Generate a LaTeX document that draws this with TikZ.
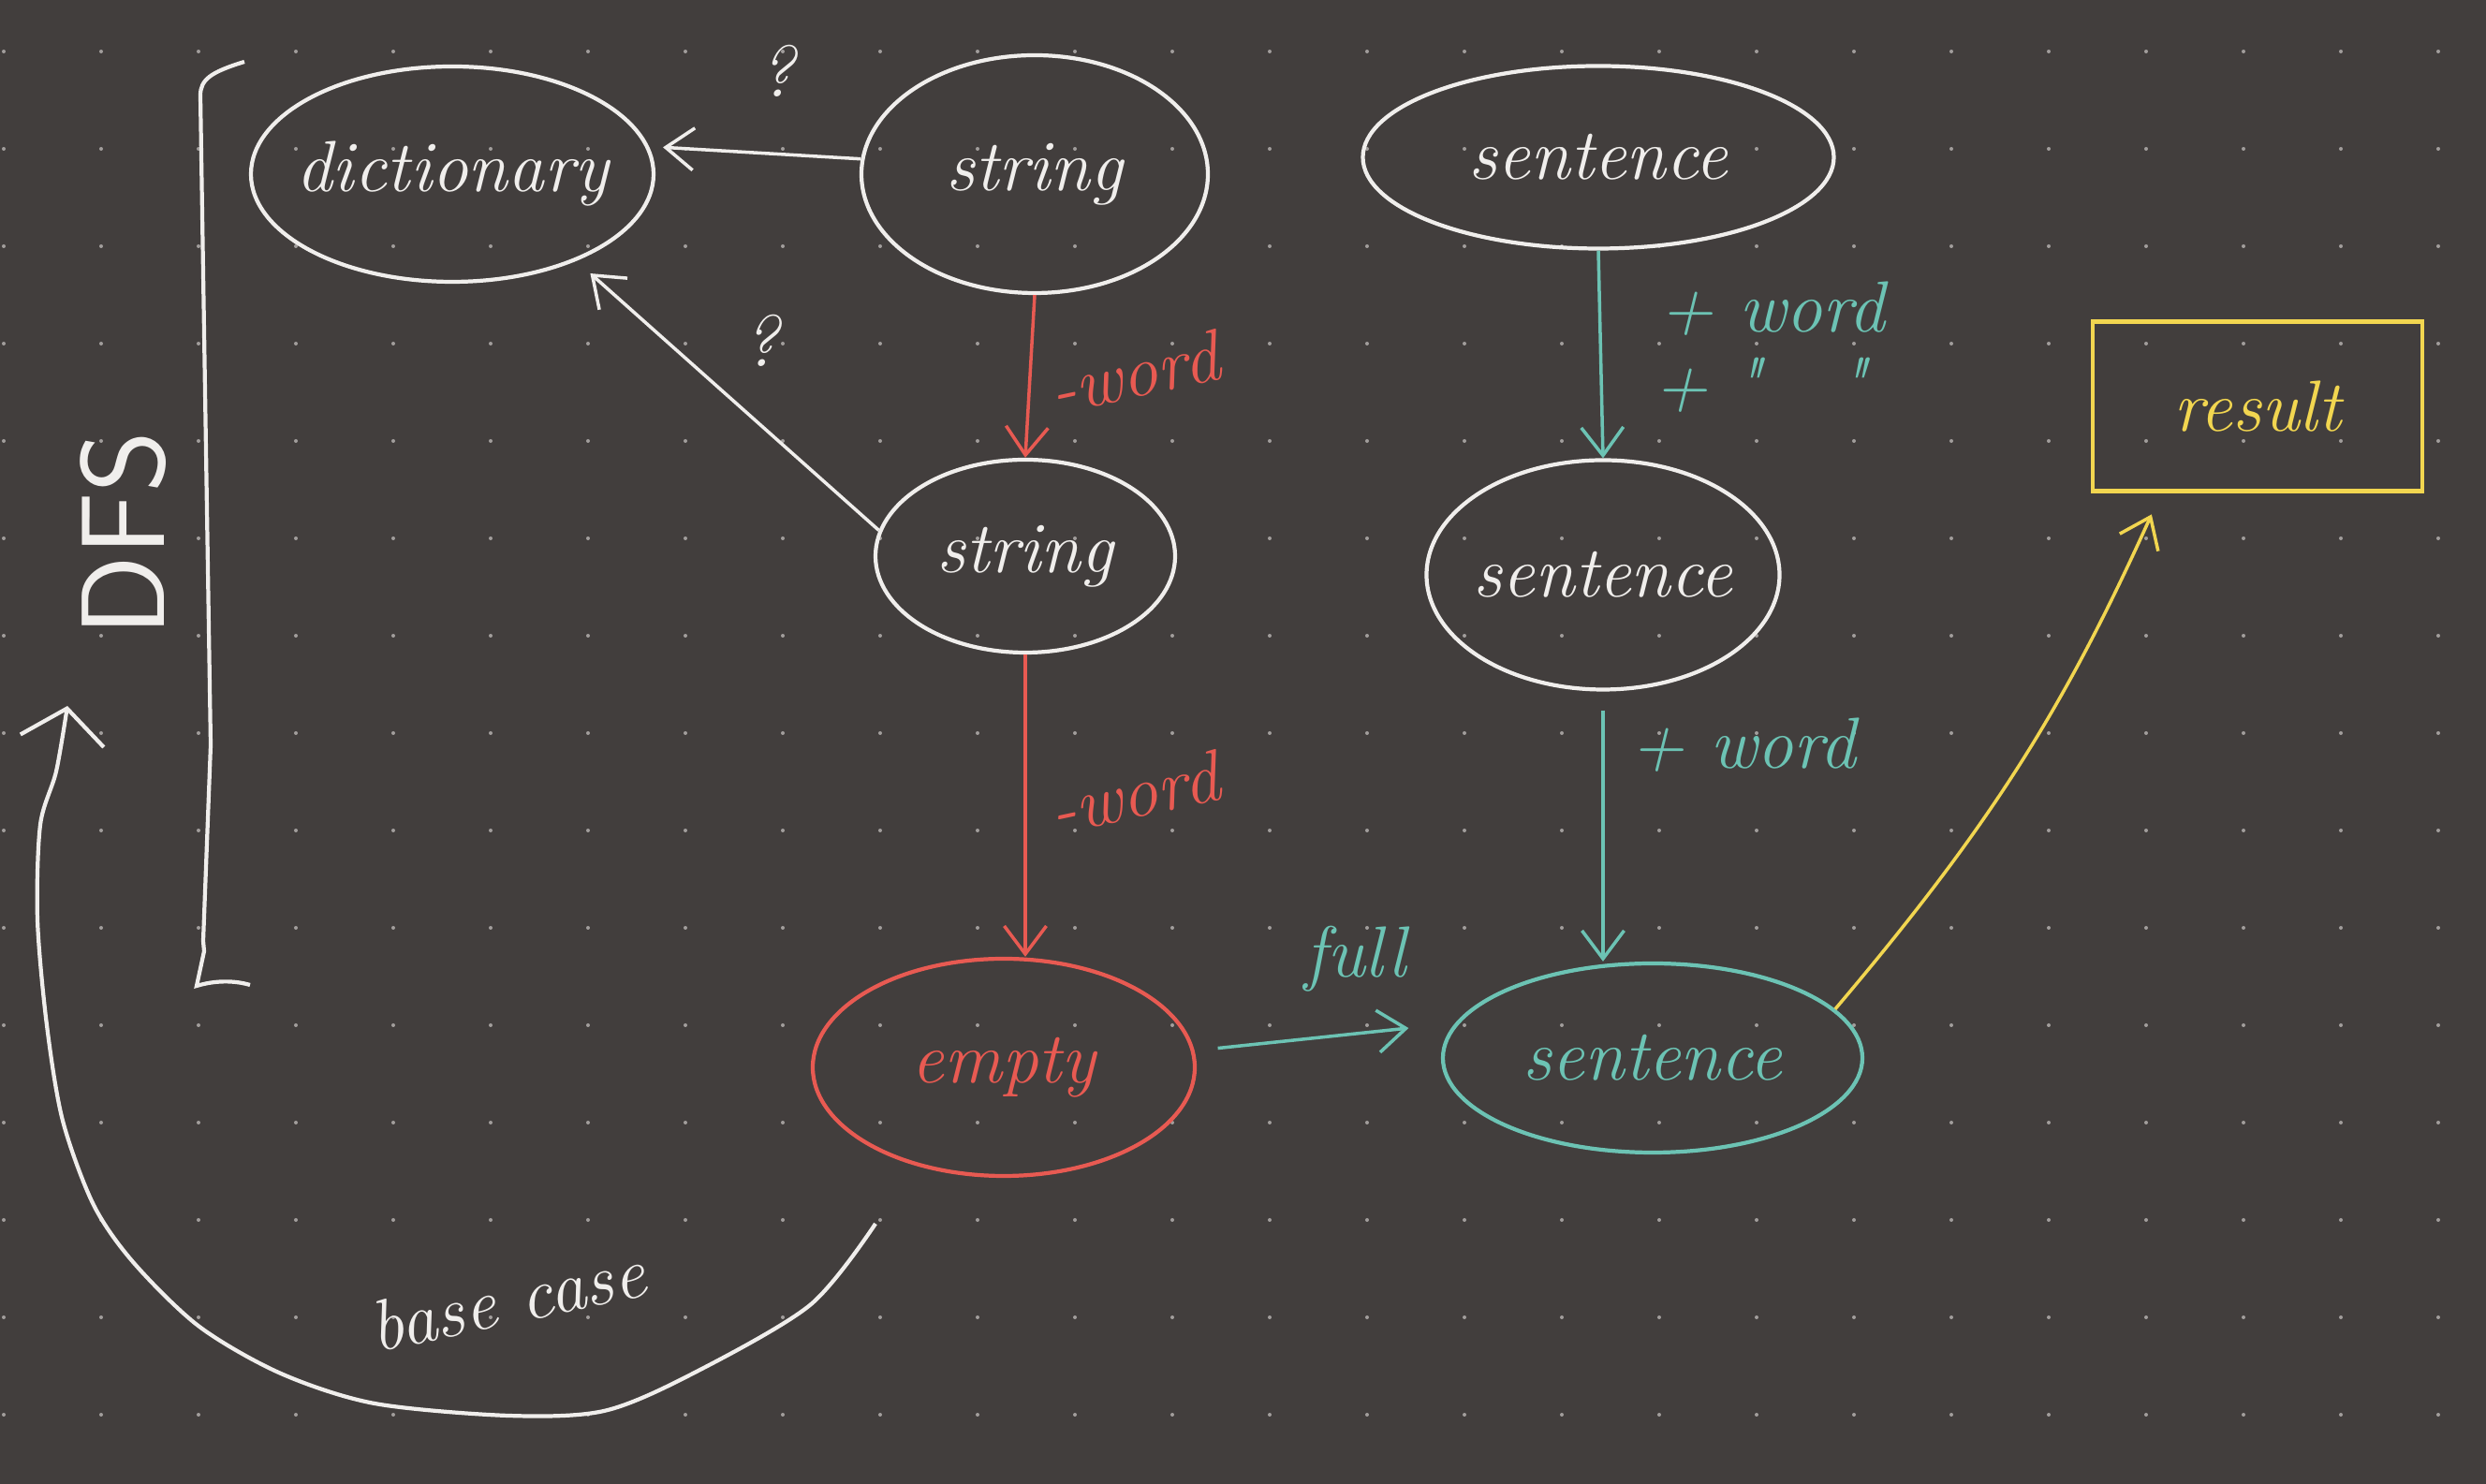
\documentclass[tikz,border=0pt]{standalone}
\usepackage{fontspec}
\usetikzlibrary{shapes.geometric, arrows.meta, positioning}
\definecolor{board}{HTML}{423E3D}
\definecolor{chalk}{HTML}{F0EEEC}
\definecolor{redink}{HTML}{E85A52}
\definecolor{tealink}{HTML}{6CC3B4}
\definecolor{yellowink}{HTML}{F2D650}
\definecolor{dotgrey}{HTML}{A29E9C}

\begin{document}
\begin{tikzpicture}[
	hand/.style={font=\fontsize{22}{26}\selectfont\itshape},
	blob/.style={ellipse, draw, line width=1.2pt, hand, inner sep=-2mm},
	barb/.style={-{Straight Barb[length=3mm,width=4.5mm]}, line width=1pt}]
	% board and dot grid
	\fill[board] (0,0) rectangle (26.55,15.85);
	\foreach \i in {0,...,25}
		\foreach \j in {0,...,14}
			\fill[dotgrey] (0.04+1.04*\i, 15.30-1.04*\j) circle (0.02);

	% DFS bracket
	\draw[chalk, line width=1.2pt] (2.61,15.19) .. controls (2.25,15.08) and (2.14,15.0) .. (2.14,14.83)
		-- (2.25,7.89) -- (2.17,5.80) -- (2.18,5.69) -- (2.10,5.32) .. controls (2.30,5.38) and (2.50,5.38) .. (2.67,5.33);
	\node[chalk, font=\fontsize{36}{40}\selectfont\sffamily, rotate=90] (dfs) at (1.32,10.15) {DFS};

	\node[blob, chalk, minimum width=4.3cm, minimum height=2.3cm] (dict) at (4.83,13.99) {dictionary};
	\node[blob, chalk, minimum width=3.7cm, minimum height=2.54cm] (str1) at (11.05,13.99) {string};
	\node[blob, chalk, minimum width=3.2cm, minimum height=2.06cm] (str2) at (10.95,9.91) {string};
	\node[blob, redink, minimum width=4.08cm, minimum height=2.32cm] (empty) at (10.72,4.45) {empty};
	\node[blob, chalk, minimum width=5.03cm, minimum height=1.95cm] (sent1) at (17.07,14.17) {sentence};
	\node[blob, chalk, minimum width=3.77cm, minimum height=2.45cm] (sent2) at (17.12,9.71) {sentence};
	\node[blob, tealink, minimum width=4.48cm, minimum height=2.02cm] (sent3) at (17.65,4.55) {sentence};
	\node[draw, yellowink, line width=1.2pt, hand, minimum width=3.52cm, minimum height=1.81cm] (res) at (24.11,11.51) {result};

	% lookups
	\draw[barb, chalk, shorten >=1.5mm] (str1.175) -- (dict.8);
	\node[hand, chalk] (q1) at (8.30,15.09) {?};
	\draw[barb, chalk, shorten >=2mm] (str2.170) -- (dict.-35);
	\node[hand, chalk] (q2) at (8.13,12.21) {?};

	% cut words off the string
	\draw[barb, redink] (str1.south) -- (str2.north);
	\node[hand, redink, rotate=12] (cut1) at (12.11,11.87) {-word};
	\draw[barb, redink] (str2.south) -- (str2.south |- empty.north);
	\node[hand, redink, rotate=12] (cut2) at (12.11,7.38) {-word};

	% build the sentence
	\draw[barb, tealink] (sent1.south) -- (sent2.north);
	\node[hand, tealink] (add1) at (18.93,12.55) {+ word};
	\node[hand, tealink] (add2) at (18.80,11.74) {+ \textquotedbl\ \ \ \textquotedbl};
	\draw[barb, tealink, shorten <=2mm] (sent2.south) -- (sent2.south |- sent3.north);
	\node[hand, tealink] (add3) at (18.62,7.89) {+ word};
	\draw[barb, tealink, shorten <=2.5mm, shorten >=5mm] (empty.5) -- (sent3.170);
	\node[hand, tealink] (full) at (14.48,5.61) {full};
	\draw[barb, yellowink, shorten >=2.5mm] (sent3.15) to[bend right=8] (res.-138);

	% back to the search
	\draw[chalk, line width=1.2pt, -{Straight Barb[length=3.5mm,width=9mm]}] plot[smooth] coordinates {(9.35,2.78) (8.65,1.91) (7.38,1.17) (6.45,0.78) (5.43,0.73) (4.00,0.86) (3.00,1.18) (2.13,1.68) (1.43,2.36) (1.00,2.98) (0.67,3.88) (0.50,4.90) (0.40,6.03) (0.43,7.04) (0.60,7.61) (0.72,8.31)};
	\node[hand, chalk, rotate=12] (bcase) at (5.42,1.97) {base case};
\end{tikzpicture}
\end{document}
